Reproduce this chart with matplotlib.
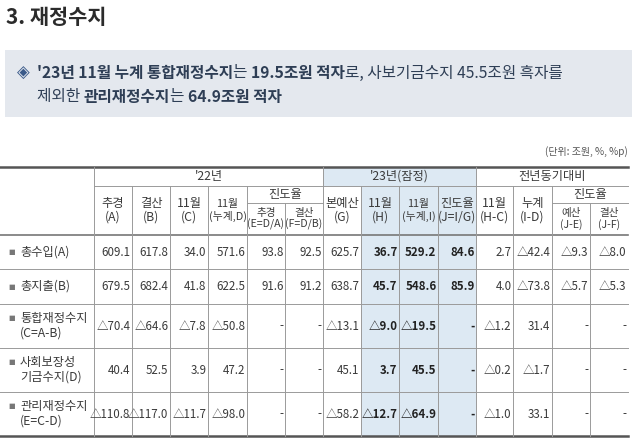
import matplotlib
matplotlib.use("Agg")
import matplotlib.pyplot as plt
from matplotlib.patches import Rectangle

plt.rcParams['font.family'] = ['Noto Sans CJK KR', 'DejaVu Sans']

row_labels = ["총수입(A)", "총지출(B)", "통합재정수지\n(C=A-B)", "사회보장성\n기금수지(D)", "관리재정수지\n(E=C-D)"]
col_headers = ["추경\n(A)", "결산\n(B)", "11월\n(C)", "11월\n(누계,D)", "추경\n(E=D/A)", "결산\n(F=D/B)",
               "본예산\n(G)", "11월\n(H)", "11월\n(누계,I)", "진도율\n(J=I/G)",
               "11월\n(H-C)", "누계\n(I-D)", "예산\n(J-E)", "결산\n(J-F)"]
values = [
    ["609.1", "617.8", "34.0", "571.6", "93.8", "92.5", "625.7", "36.7", "529.2", "84.6", "2.7", "△42.4", "△9.3", "△8.0"],
    ["679.5", "682.4", "41.8", "622.5", "91.6", "91.2", "638.7", "45.7", "548.6", "85.9", "4.0", "△73.8", "△5.7", "△5.3"],
    ["△70.4", "△64.6", "△7.8", "△50.8", "-", "-", "△13.1", "△9.0", "△19.5", "-", "△1.2", "31.4", "-", "-"],
    ["40.4", "52.5", "3.9", "47.2", "-", "-", "45.1", "3.7", "45.5", "-", "△0.2", "△1.7", "-", "-"],
    ["△110.8", "△117.0", "△11.7", "△98.0", "-", "-", "△58.2", "△12.7", "△64.9", "-", "△1.0", "33.1", "-", "-"],
]
groups = ["'22년", "'23년(잠정)", "전년동기대비"]

fig = plt.figure(figsize=(6.4, 4.45), dpi=100)
ax = fig.add_axes([0, 0, 1, 1])
ax.set_xlim(0, 640); ax.set_ylim(445, 0); ax.axis('off')

txt = '#3a3a3a'; line = '#9a9a9a'; shade = '#dde9f3'
ax.text(6, 17, "3. 재정수지", fontsize=15, fontweight='bold', color='#2b2b2b', va='center')
ax.add_patch(Rectangle((5, 50), 627, 67, color='#e4e8ee', lw=0))
ax.text(17, 73, "◈", fontsize=12, color='#3a5a8a', va='center', family=['DejaVu Sans'])
r = fig.canvas.get_renderer()
def runs(parts, x, y):
    for s, w in parts:
        t = ax.text(x, y, s, fontsize=11.3, fontweight=w, color='#2e3e55', va='center')
        bb = t.get_window_extent(renderer=r)
        x += bb.width
runs([("'23년 11월 누계 통합재정수지", 'bold'), ("는 ", 'normal'), ("19.5조원 적자", 'bold'),
      ("로, 사보기금수지 45.5조원 흑자를", 'normal')], 37, 73)
runs([("제외한 ", 'normal'), ("관리재정수지", 'bold'), ("는 ", 'normal'), ("64.9조원 적자", 'bold')], 37, 97)
ax.text(628, 152, "(단위: 조원, %, %p)", fontsize=7.2, ha='right', va='center', color='#555')

xs = [0, 94, 132, 170, 208, 247, 285, 323, 361, 399, 438, 476, 513, 552, 590, 628]
top, g_bot, sub, h_bot = 167, 186, 203, 235
rows = [235, 269, 304, 348, 392, 436]

ax.add_patch(Rectangle((323, top), 153, g_bot - top, color=shade, lw=0))
ax.add_patch(Rectangle((361, g_bot), 115, rows[-1] - g_bot, color=shade, lw=0))

ax.plot([0, 628], [top, top], color='#555', lw=1.8)
ax.plot([0, 628], [rows[-1], rows[-1]], color='#555', lw=1.8)
ax.plot([0, 628], [h_bot, h_bot], color='#777', lw=1.2)
ax.plot([94, 628], [g_bot, g_bot], color=line, lw=0.7)
for y in rows[1:-1]:
    ax.plot([0, 628], [y, y], color=line, lw=0.7)
for xv in xs[1:-1]:
    if xv in (94, 323, 476):
        ax.plot([xv, xv], [top, rows[-1]], color=line, lw=0.7)
    else:
        ax.plot([xv, xv], [g_bot if xv not in (285, 590) else sub, rows[-1]], color=line, lw=0.7)
ax.plot([247, 323], [sub, sub], color=line, lw=0.7)
ax.plot([552, 628], [sub, sub], color=line, lw=0.7)

for (a, b), g in zip([(94, 323), (323, 476), (476, 628)], groups):
    ax.text((a + b) / 2, (top + g_bot) / 2, g, fontsize=8.8, ha='center', va='center', color=txt)
ax.text(285, (g_bot + sub) / 2, "진도율", fontsize=8.8, ha='center', va='center', color=txt)
ax.text(590, (g_bot + sub) / 2, "진도율", fontsize=8.8, ha='center', va='center', color=txt)

for i, h in enumerate(col_headers):
    cx = (xs[i + 1] + xs[i + 2]) / 2
    if i in (4, 5, 12, 13):
        cy = (sub + h_bot) / 2; fs = 7.6
    else:
        cy = (g_bot + h_bot) / 2; fs = 8.8 if '누계,' not in h else 7.8
    ax.text(cx, cy, h, fontsize=fs, ha='center', va='center', color=txt, linespacing=1.1)

for ri, lab in enumerate(row_labels):
    y0, y1 = rows[ri], rows[ri + 1]
    cy = (y0 + y1) / 2
    first_y = cy - 8 if '\n' in lab else cy
    ax.text(8, first_y, "■", fontsize=5, va='center', color='#777', family=['DejaVu Sans'])
    ax.text(20, cy, lab, fontsize=8.8, va='center', color=txt, linespacing=1.2)
    for ci, v in enumerate(values[ri]):
        bold = ci in (7, 8, 9)
        ax.text(xs[ci + 2] - 1.5, cy, v, fontsize=8.3, ha='right', va='center',
                color='#222' if bold else txt, fontweight='bold' if bold else 'normal')

fig.savefig("out.png", dpi=100)
